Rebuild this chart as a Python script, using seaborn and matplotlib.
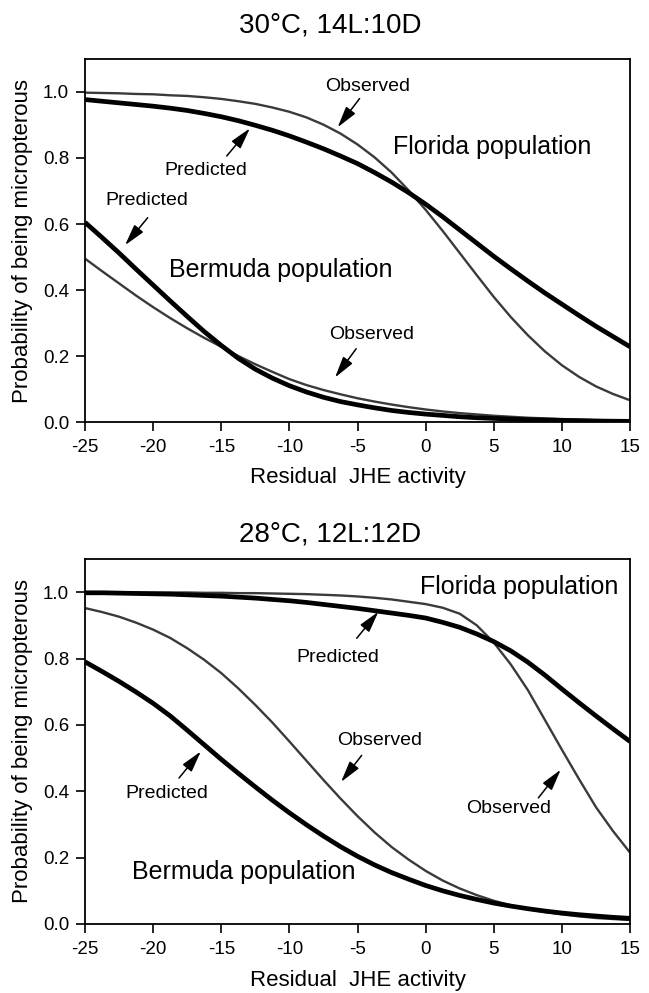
import matplotlib
matplotlib.use("Agg")
import matplotlib.pyplot as plt
import seaborn as sns
import pandas as pd

# ---------------- data ----------------
x_vals = [-25, -23.75, -22.5, -21.25, -20, -18.75, -17.5, -16.25, -15, -13.75,
          -12.5, -11.25, -10, -8.75, -7.5, -6.25, -5, -3.75, -2.5, -1.25,
          0, 1.25, 2.5, 3.75, 5, 6.25, 7.5, 8.75, 10, 11.25, 12.5, 13.75, 15]

# Panel 1: 30°C, 14L:10D
top_fl_pred = [0.977, 0.972, 0.967, 0.962, 0.957, 0.951, 0.944, 0.935, 0.925, 0.913,
               0.899, 0.884, 0.867, 0.848, 0.828, 0.806, 0.783, 0.756, 0.727, 0.695,
               0.660, 0.622, 0.582, 0.542, 0.502, 0.464, 0.427, 0.391, 0.357, 0.323,
               0.290, 0.259, 0.228]
top_fl_obs = [0.998, 0.997, 0.996, 0.994, 0.993, 0.990, 0.988, 0.984, 0.979, 0.972,
              0.964, 0.953, 0.940, 0.923, 0.901, 0.874, 0.841, 0.802, 0.756, 0.702,
              0.643, 0.579, 0.512, 0.445, 0.379, 0.318, 0.263, 0.214, 0.172, 0.137,
              0.108, 0.085, 0.066]
top_be_pred = [0.605, 0.559, 0.512, 0.463, 0.415, 0.367, 0.320, 0.274, 0.232, 0.193,
               0.160, 0.133, 0.110, 0.091, 0.075, 0.062, 0.052, 0.043, 0.035, 0.029,
               0.024, 0.020, 0.016, 0.013, 0.011, 0.009, 0.007, 0.006, 0.005, 0.004,
               0.003, 0.0025, 0.002]
top_be_obs = [0.495, 0.457, 0.420, 0.383, 0.348, 0.315, 0.284, 0.255, 0.228, 0.200,
              0.175, 0.152, 0.130, 0.112, 0.097, 0.084, 0.072, 0.062, 0.053, 0.045,
              0.038, 0.032, 0.027, 0.023, 0.019, 0.016, 0.013, 0.011, 0.009, 0.0075,
              0.006, 0.005, 0.004]

# Panel 2: 28°C, 12L:12D
bot_fl_pred = [0.998, 0.998, 0.997, 0.996, 0.995, 0.994, 0.992, 0.990, 0.988, 0.985,
               0.982, 0.978, 0.974, 0.969, 0.963, 0.957, 0.951, 0.944, 0.937, 0.930,
               0.922, 0.909, 0.894, 0.874, 0.851, 0.823, 0.789, 0.750, 0.708, 0.667,
               0.627, 0.588, 0.550]
bot_fl_obs = [1.000, 1.000, 1.000, 0.999, 0.999, 0.999, 0.999, 0.998, 0.998, 0.997,
              0.997, 0.996, 0.995, 0.994, 0.992, 0.990, 0.987, 0.983, 0.978, 0.971,
              0.964, 0.953, 0.935, 0.900, 0.848, 0.782, 0.705, 0.615, 0.525, 0.437,
              0.352, 0.280, 0.215]
bot_be_pred = [0.790, 0.761, 0.731, 0.699, 0.665, 0.627, 0.584, 0.540, 0.496, 0.454,
               0.413, 0.373, 0.335, 0.299, 0.265, 0.233, 0.204, 0.178, 0.155, 0.135,
               0.116, 0.100, 0.086, 0.074, 0.063, 0.054, 0.046, 0.039, 0.033, 0.028,
               0.024, 0.020, 0.017]
bot_be_obs = [0.952, 0.940, 0.926, 0.908, 0.887, 0.862, 0.831, 0.796, 0.756, 0.710,
              0.660, 0.607, 0.550, 0.492, 0.434, 0.378, 0.325, 0.276, 0.232, 0.194,
              0.160, 0.131, 0.107, 0.087, 0.070, 0.056, 0.045, 0.036, 0.029, 0.023,
              0.018, 0.015, 0.012]

titles = ["30°C, 14L:10D", "28°C, 12L:12D"]
x_ticks = [-25, -20, -15, -10, -5, 0, 5, 10, 15]
y_ticks = [0.0, 0.2, 0.4, 0.6, 0.8, 1.0]
y_tick_labels = ["0.0", "0.2", "0.4", "0.6", "0.8", "1.0"]
x_label = "Residual  JHE activity"
y_label = "Probability of being micropterous"

# annotations: (text, text_xy, arrow_tail, arrow_tip)
top_notes = [
    ("Observed", (-4.24, 1.018), (-4.85, 0.980), (-6.46, 0.893)),
    ("Predicted", (-16.17, 0.761), (-14.6, 0.806), (-12.9, 0.890)),
    ("Predicted", (-20.5, 0.670), (-20.4, 0.619), (-22.06, 0.536)),
    ("Observed", (-3.94, 0.266), (-5.1, 0.222), (-6.65, 0.135)),
]
top_pops = [("Florida population", (-2.37, 0.834)),
            ("Bermuda population", (-18.83, 0.462))]

bot_notes = [
    ("Predicted", (-6.45, 0.802), (-5.06, 0.861), (-3.47, 0.941)),
    ("Observed", (-3.36, 0.552), (-4.7, 0.508), (-6.21, 0.428)),
    ("Predicted", (-19.0, 0.393), (-18.1, 0.440), (-16.5, 0.520)),
    ("Observed", (6.07, 0.347), (8.27, 0.380), (9.91, 0.465)),
]
bot_pops = [("Florida population", (-0.42, 1.016)),
            ("Bermuda population", (-21.57, 0.156))]

# ---------------- style ----------------
sns.set_theme(style="ticks")
plt.rcParams["font.family"] = ["Liberation Sans", "DejaVu Sans"]
plt.rcParams.update({
    "axes.edgecolor": "black",
    "axes.linewidth": 1.3,
    "xtick.color": "black",
    "ytick.color": "black",
    "text.color": "black",
    "axes.labelcolor": "black",
    "xtick.major.size": 6.5,
    "ytick.major.size": 6.5,
    "xtick.major.width": 1.2,
    "ytick.major.width": 1.2,
})

fig = plt.figure(figsize=(6.49, 9.93), dpi=100)
ax_top = fig.add_axes([0.1310, 0.5750, 0.8398, 0.3656])
ax_bot = fig.add_axes([0.1310, 0.0695, 0.8398, 0.3676])

panels = [
    (ax_top, top_fl_pred, top_fl_obs, top_be_pred, top_be_obs, top_notes, top_pops, titles[0], 1.093),
    (ax_bot, bot_fl_pred, bot_fl_obs, bot_be_pred, bot_be_obs, bot_notes, bot_pops, titles[1], 1.068),
]

THIN = "#3a3a3a"
for ax, flp, flo, bep, beo, notes, pops, title, ty in panels:
    df = pd.DataFrame({"x": x_vals, "fl_pred": flp, "fl_obs": flo,
                       "be_pred": bep, "be_obs": beo})
    for col, colr, lw in [("fl_obs", THIN, 1.7), ("be_obs", THIN, 1.7),
                          ("fl_pred", "black", 3.4), ("be_pred", "black", 3.4)]:
        sns.lineplot(data=df, x="x", y=col, ax=ax, color=colr, linewidth=lw,
                     solid_joinstyle="round", solid_capstyle="butt")

    ax.set_xlim(-25, 15)
    ax.set_ylim(0, 1.1)
    ax.set_xticks(x_ticks)
    ax.set_xticklabels([str(t) for t in x_ticks])
    ax.set_yticks(y_ticks)
    ax.set_yticklabels(y_tick_labels)
    ax.tick_params(axis="both", labelsize=13.5, direction="out")
    ax.tick_params(axis="x", pad=6)
    ax.tick_params(axis="y", pad=5)
    for s in ax.spines.values():
        s.set_visible(True)
        s.set_linewidth(1.3)
        s.set_color("black")

    ax.set_xlabel(x_label, fontsize=16)
    ax.set_ylabel(y_label, fontsize=16)
    ax.xaxis.set_label_coords(0.5, -0.125)
    ax.yaxis.set_label_coords(-0.095, 0.5)

    ax.text(0.45, ty, title, transform=ax.transAxes, ha="center", va="center",
            fontsize=20)

    for txt, txy, tail, tip in notes:
        ax.text(txy[0], txy[1], txt, ha="center", va="center", fontsize=14)
        ax.annotate("", xy=tip, xytext=tail,
                    arrowprops=dict(arrowstyle="-|>,head_length=1.3,head_width=0.35",
                                    color="black", lw=1.1, shrinkA=0, shrinkB=0,
                                    mutation_scale=10))
    for txt, txy in pops:
        ax.text(txy[0], txy[1], txt, ha="left", va="center", fontsize=18)

fig.savefig("out.png", dpi=100, facecolor="white")
